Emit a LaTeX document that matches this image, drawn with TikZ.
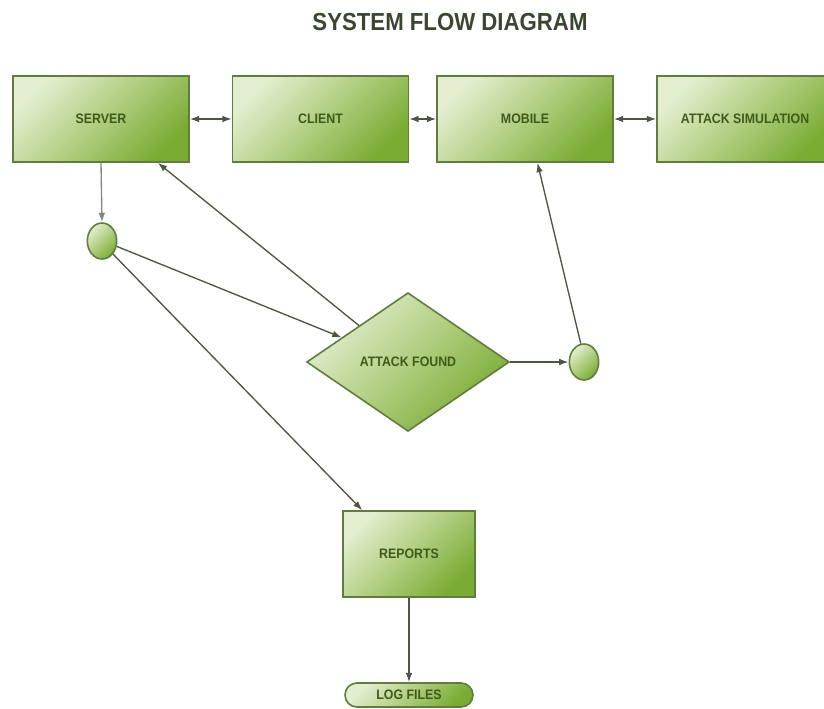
\documentclass[tikz,border=0pt]{standalone}
\usepackage{fontspec}
\usetikzlibrary{shapes.geometric,arrows.meta,calc}
\newfontfamily\labfont[FakeStretch=0.9]{Liberation Sans}
\definecolor{boxlight}{HTML}{E2EECF}
\definecolor{boxmid}{HTML}{B0CE80}
\definecolor{boxdark}{HTML}{7AAC34}
\definecolor{boxedge}{HTML}{627C40}
\definecolor{labtext}{HTML}{3F5A1A}
\definecolor{linecol}{HTML}{4B5643}
\definecolor{titletext}{HTML}{3A4630}
\tikzset{
  greenfill/.style={draw=boxedge, line width=1.2pt, left color=boxlight, right color=boxdark, middle color=boxmid, shading angle=45},
  boxnode/.style={greenfill, rectangle, minimum width=132pt, minimum height=64.5pt, inner sep=0pt,
     font=\labfont\bfseries\fontsize{10.3}{12}\selectfont, text=labtext},
  dianode/.style={greenfill, diamond, minimum width=152pt, minimum height=104pt, inner sep=0pt,
     font=\labfont\bfseries\fontsize{10.3}{12}\selectfont, text=labtext},
  circnode/.style={greenfill, ellipse, minimum width=22pt, minimum height=27pt, inner sep=0pt},
  pillnode/.style={greenfill, rectangle, rounded corners=9pt, minimum width=96pt, minimum height=18pt, inner sep=0pt,
     font=\labfont\bfseries\fontsize{10.3}{12}\selectfont, text=labtext},
  conn/.style={draw=linecol, line width=1pt, -{Latex[length=7pt,width=5pt]}},
  biconn/.style={draw=linecol, line width=1pt, {Latex[length=7pt,width=5pt]}-{Latex[length=7pt,width=5pt]}},
}
\begin{document}
\begin{tikzpicture}[x=0.75pt,y=-0.75pt]
\useasboundingbox (0,0) rectangle (824,709);
\node[font=\labfont\bfseries\fontsize{18.5}{22}\selectfont, text=titletext] (title) at (450,22) {SYSTEM FLOW DIAGRAM};
\node[boxnode] (server) at (101,119) {SERVER};
\node[boxnode] (client) at (320.5,119) {CLIENT};
\node[boxnode] (mobile) at (525,119) {MOBILE};
\node[boxnode] (attack) at (745,119) {ATTACK SIMULATION};
\node[circnode] (c1) at (102,241) {};
\node[dianode] (found) at (408,362) {ATTACK FOUND};
\node[circnode] (c2) at (584,362) {};
\node[boxnode, minimum width=99pt] (reports) at (409,554) {REPORTS};
\node[pillnode] (logs) at (409,695) {LOG FILES};
\coordinate (srvb) at ($(server.south west)!0.82!(server.south east)$);
\coordinate (mobb) at ($(mobile.south west)!0.57!(mobile.south east)$);
\coordinate (reptl) at ($(reports.north west)!0.15!(reports.north east)$);
\coordinate (fin) at ($(found.west)!0.35!(found.north)$);
\coordinate (fout) at ($(found.west)!0.52!(found.north)$);
\draw[biconn] (server.east) -- (client.west);
\draw[biconn] (client.east) -- (mobile.west);
\draw[biconn] (mobile.east) -- (attack.west);
\draw[conn, draw=linecol!70] (server.south) -- (c1.north);
\draw[conn] (c1.-20) -- (fin);
\draw[conn] (c1.-50) -- (reptl);
\draw[conn] (fout) -- (srvb);
\draw[conn] (found.east) -- (c2.west);
\draw[conn] (c2.100) -- (mobb);
\draw[conn] (reports.south) -- (logs.north);
\end{tikzpicture}
\end{document}
